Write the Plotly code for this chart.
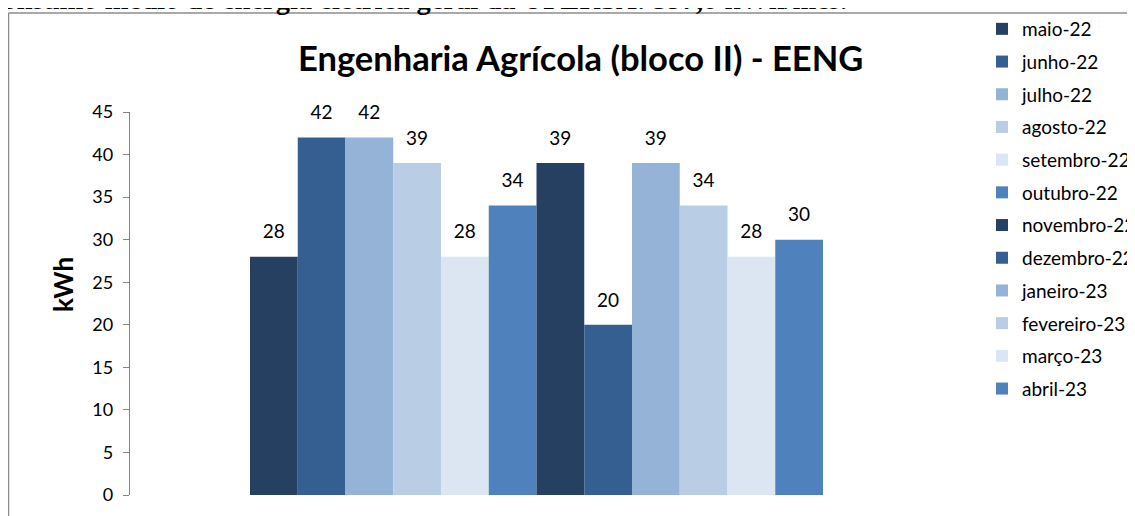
import plotly.graph_objects as go

W, H = 1135, 516

months = ["maio-22", "junho-22", "julho-22", "agosto-22", "setembro-22", "outubro-22",
          "novembro-22", "dezembro-22", "janeiro-23", "fevereiro-23", "março-23", "abril-23"]
values = [28, 42, 42, 39, 28, 34, 39, 20, 39, 34, 28, 30]
colors = ["#254061", "#365F91", "#95B3D7", "#B9CDE5", "#DCE6F2", "#4F81BD",
          "#254061", "#365F91", "#95B3D7", "#B9CDE5", "#DCE6F2", "#4F81BD"]
yticks = [0, 5, 10, 15, 20, 25, 30, 35, 40, 45]

title_text = "Engenharia Agrícola (bloco II) - EENG"
top_text = "Consumo médio de energia elétrica geral da UFERSA: 397,8 kWh/mês."
y_title = "kWh"

FONT = "Lato"
OFF = 8  # page body margin

fig = go.Figure()
for i, (m, v, c) in enumerate(zip(months, values, colors)):
    fig.add_trace(go.Bar(x=[i], y=[v], name=m, marker=dict(color=c, line=dict(width=0)),
                         width=1, legendgroup=m, showlegend=True))

fig.add_trace(go.Scatter(x=list(range(len(values))), y=values, mode="markers+text",
                         text=[str(v) for v in values], textposition="top center",
                         textfont=dict(family=FONT, size=19, color="#000000"),
                         marker=dict(size=20, opacity=0), showlegend=False, hoverinfo="skip",
                         cliponaxis=False))

# screen pixel -> paper helpers
def px(x):
    return (x - OFF) / W

def py(y):
    return 1 - (y - OFF) / H

x_left, x_right = 130, 950
bar_w = 47.75
bar_start = 250
a = -0.5 - (bar_start - x_left) / bar_w
b = a + (x_right - x_left) / bar_w

fig.update_layout(
    width=W, height=H,
    margin=dict(l=0, r=0, t=0, b=0),
    paper_bgcolor="white", plot_bgcolor="white",
    barmode="overlay",
    font=dict(family=FONT, color="#000000"),
    xaxis=dict(domain=[px(x_left), px(x_right)], range=[a, b], showticklabels=False,
               showline=False, showgrid=False, zeroline=False, ticks="", fixedrange=True),
    yaxis=dict(domain=[py(495), py(112)], range=[0, 45], tickvals=yticks,
               showline=True, linecolor="#868686", linewidth=1.3,
               ticks="outside", ticklen=6, tickcolor="#868686", tickwidth=1.3,
               ticklabelstandoff=6,
               tickfont=dict(family=FONT, size=18, color="#000000"),
               showgrid=False, zeroline=False, automargin=False),
    legend=dict(x=px(982), y=py(10), xanchor="left", yanchor="top",
                font=dict(family=FONT, size=19, color="#000000"),
                tracegroupgap=5, bgcolor="rgba(0,0,0,0)", borderwidth=0),
    showlegend=True,
)

fig.add_annotation(text=f"<b>{title_text}</b>", xref="paper", yref="paper",
                   x=px(580), y=py(58), xanchor="center", yanchor="middle",
                   showarrow=False, font=dict(family=FONT, size=34.5, color="#000000"))
fig.add_annotation(text=f"<b>{y_title}</b>", xref="paper", yref="paper",
                   x=px(63), y=py(285), xanchor="center", yanchor="middle", textangle=-90,
                   showarrow=False, font=dict(family=FONT, size=26, color="#000000"))
fig.add_annotation(text=f"<b>{top_text}</b>", xref="paper", yref="paper",
                   x=px(-20), y=py(0), xanchor="left", yanchor="middle",
                   showarrow=False, font=dict(family="Liberation Serif", size=28.5, color="#000000"))

fig.add_shape(type="line", xref="paper", yref="paper", x0=px(8.5), x1=px(8.5), y0=py(13), y1=py(530),
              line=dict(color="#8c8c8c", width=1.5))
fig.add_shape(type="line", xref="paper", yref="paper", x0=px(8.5), x1=px(1150), y0=py(13), y1=py(13),
              line=dict(color="#8c8c8c", width=1.5))

fig.write_html("out.html")
